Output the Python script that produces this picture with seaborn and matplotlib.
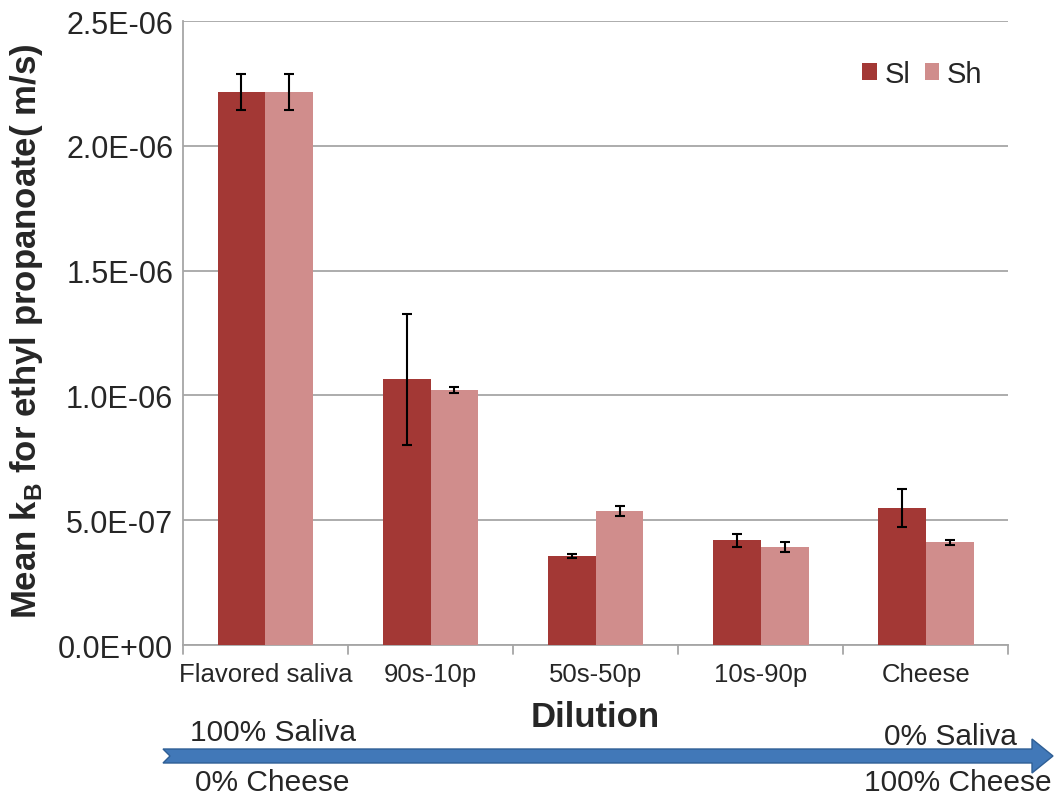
import numpy as np
import pandas as pd
import matplotlib
matplotlib.use('Agg')
import matplotlib.pyplot as plt
import seaborn as sns
from matplotlib.patches import Polygon
from matplotlib.transforms import IdentityTransform

# Datos
categorias = ['Flavored saliva', '90s-10p', '50s-50p', '10s-90p', 'Cheese']
sl_media = [2.216e-06, 1.064e-06, 0.358e-06, 0.420e-06, 0.548e-06]
sl_error = [0.072e-06, 0.264e-06, 0.008e-06, 0.026e-06, 0.076e-06]
sh_media = [2.216e-06, 1.020e-06, 0.536e-06, 0.392e-06, 0.412e-06]
sh_error = [0.072e-06, 0.012e-06, 0.020e-06, 0.020e-06, 0.010e-06]
y_ticks = [0.0, 5.0e-07, 1.0e-06, 1.5e-06, 2.0e-06, 2.5e-06]
y_tick_labels = ['0.0E+00', '5.0E-07', '1.0E-06', '1.5E-06', '2.0E-06', '2.5E-06']

df = pd.DataFrame({
    'Dilution': categorias * 2,
    'kB': sl_media + sh_media,
    'err': sl_error + sh_error,
    'Serie': ['Sl'] * 5 + ['Sh'] * 5,
})

sns.set_style('white')
plt.rcParams['font.family'] = ['Liberation Sans', 'DejaVu Sans']

fig = plt.figure(figsize=(10.57, 8.03), dpi=100)
ax = fig.add_axes([0.173, 0.1955, 0.781, 0.7771])

colores = {'Sl': '#a33835', 'Sh': '#d08d8c'}
sns.barplot(data=df, x='Dilution', y='kB', hue='Serie', palette=colores,
            width=0.58, errorbar=None, ax=ax, zorder=3, saturation=1,
            linewidth=0)

# Barras de error en el centro de cada barra
n = len(categorias)
for i, p in enumerate(ax.patches[:2 * n]):
    xc = p.get_x() + p.get_width() / 2
    ax.errorbar(xc, df['kB'].iloc[i], yerr=df['err'].iloc[i], fmt='none',
                ecolor='black', elinewidth=1.5, capsize=3.5, capthick=1.5, zorder=4)

ax.set_ylim(0, 2.5e-06)
ax.set_xlim(-0.5, n - 0.5)
ax.set_yticks(y_ticks)
ax.set_yticklabels(y_tick_labels, fontsize=22)
ax.yaxis.grid(True, color='#a6a6a6', linewidth=1.3, zorder=0)
ax.set_axisbelow(True)
for s in ['top', 'right']:
    ax.spines[s].set_visible(False)
ax.spines['left'].set_color('#a6a6a6')
ax.spines['bottom'].set_color('#a6a6a6')
ax.spines['left'].set_linewidth(1.3)
ax.spines['bottom'].set_linewidth(1.3)
ax.tick_params(axis='y', length=0, pad=7)
ax.tick_params(axis='x', length=0, pad=12)
ax.set_xticks(range(n))
ax.set_xticklabels(categorias, fontsize=18.5)
# marcas entre categorias
for b in np.arange(-0.5, n, 1.0):
    ax.plot([b, b], [0, -0.035e-06], color='#a6a6a6', lw=1.3, clip_on=False)

ax.set_xlabel('Dilution', fontsize=25, fontweight='bold', labelpad=10)
ax.set_ylabel('Mean k$_\\mathregular{B}$ for ethyl propanoate( m/s)',
              fontsize=25, fontweight='bold')
ax.yaxis.set_label_coords(-0.167, 0.505)

leg = ax.legend(loc='upper right', bbox_to_anchor=(1.0, 0.98), frameon=False,
                fontsize=21, handlelength=0.5, handleheight=0.5,
                handletextpad=0.25, columnspacing=0.5, ncol=2)

# Flecha de dilucion (pixeles)
yc = 803 - 757
flecha = [(163, yc + 7), (1032, yc + 7), (1032, yc + 17), (1053, yc),
          (1032, yc - 17), (1032, yc - 7), (163, yc - 7), (170, yc)]
fig.add_artist(Polygon(flecha, closed=True, facecolor='#4178b8',
                       edgecolor='#2f5f95', lw=1, transform=IdentityTransform()))
fig.text(190 / 1057, 1 - 733 / 803, '100% Saliva', fontsize=21.5, va='center', ha='left')
fig.text(195 / 1057, 1 - 783 / 803, '0% Cheese', fontsize=21.5, va='center', ha='left')
fig.text(1017 / 1057, 1 - 737 / 803, '0% Saliva', fontsize=21.5, va='center', ha='right')
fig.text(1052 / 1057, 1 - 783 / 803, '100% Cheese', fontsize=21.5, va='center', ha='right')

fig.savefig('out.png', dpi=100)
